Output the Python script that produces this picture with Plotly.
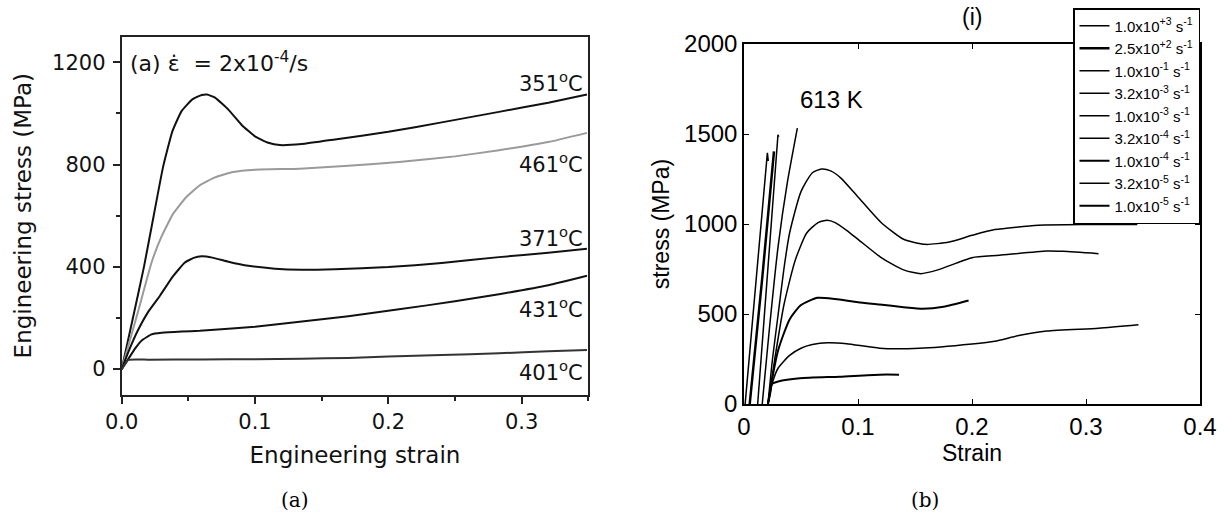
import plotly.graph_objects as go

# ---------------- Panel (a): engineering stress-strain at 2x10^-4 /s ----------------
temps_a = ["351", "461", "371", "431", "401"]

strain_351 = [0, 0.008, 0.0167, 0.024, 0.031, 0.038, 0.045, 0.053, 0.060, 0.064, 0.070, 0.080, 0.090, 0.100,
              0.110, 0.1185, 0.135, 0.160, 0.200, 0.240, 0.283, 0.320, 0.349]
stress_351 = [0, 190, 400, 600, 790, 930, 1010, 1055, 1072, 1074, 1062, 1015, 955, 910,
              885, 876, 880, 898, 928, 965, 1006, 1042, 1074]

strain_461 = [0, 0.006, 0.012, 0.0224, 0.030, 0.0386, 0.048, 0.0586, 0.070, 0.0835, 0.100, 0.1335,
              0.170, 0.208, 0.250, 0.283, 0.320, 0.349]
stress_461 = [0, 110, 220, 417, 520, 608, 670, 719, 750, 771, 780, 784,
              795, 810, 832, 856, 888, 924]

strain_371 = [0, 0.006, 0.012, 0.020, 0.0287, 0.038, 0.0474, 0.054, 0.060, 0.068, 0.080, 0.095, 0.115,
              0.135, 0.160, 0.200, 0.240, 0.283, 0.320, 0.349]
stress_371 = [0, 80, 150, 225, 287, 360, 417, 435, 441, 436, 420, 404, 393,
              389, 391, 399, 415, 438, 455, 471]

strain_431 = [0, 0.005, 0.010, 0.015, 0.0224, 0.030, 0.045, 0.0586, 0.080, 0.100, 0.1335, 0.170,
              0.208, 0.250, 0.283, 0.320, 0.349]
stress_431 = [0, 40, 80, 112, 136, 142, 147, 150, 158, 166, 185, 207,
              234, 265, 293, 328, 365]

strain_401 = [0, 0.005, 0.020, 0.060, 0.100, 0.135, 0.170, 0.200, 0.240, 0.283, 0.320, 0.349]
stress_401 = [0, 36, 37, 38, 39, 41, 44, 49, 55, 62, 70, 75]

label_y_a = [1122, 805, 515, 241, -7]

# ---------------- Panel (b): true stress-strain at 613 K ----------------
rates_b = ["1.0x10<sup>+3</sup> s<sup>-1</sup>", "2.5x10<sup>+2</sup> s<sup>-1</sup>",
           "1.0x10<sup>-1</sup> s<sup>-1</sup>", "3.2x10<sup>-3</sup> s<sup>-1</sup>",
           "1.0x10<sup>-3</sup> s<sup>-1</sup>", "3.2x10<sup>-4</sup> s<sup>-1</sup>",
           "1.0x10<sup>-4</sup> s<sup>-1</sup>", "3.2x10<sup>-5</sup> s<sup>-1</sup>",
           "1.0x10<sup>-5</sup> s<sup>-1</sup>"]

strain_r1 = [0.001, 0.0205, 0.0213]
stress_r1 = [0, 1395, 1350]
strain_r2 = [0.005, 0.016, 0.0263]
stress_r2 = [0, 700, 1403]
strain_r3 = [0.012, 0.0298, 0.0305]
stress_r3 = [0, 1496, 1485]
strain_r4 = [0.016, 0.022, 0.030, 0.038, 0.0468]
stress_r4 = [0, 400, 880, 1230, 1533]
strain_r5 = [0.021, 0.025, 0.030, 0.035, 0.040, 0.050, 0.060, 0.068, 0.076, 0.085, 0.100, 0.120, 0.140,
             0.159, 0.180, 0.200, 0.220, 0.2585, 0.300, 0.345]
stress_r5 = [0, 250, 500, 750, 950, 1180, 1285, 1305, 1295, 1255, 1150, 1010, 915,
             887, 900, 937, 969, 993, 997, 997]
strain_r6 = [0.021, 0.027, 0.035, 0.045, 0.055, 0.065, 0.073, 0.080, 0.090, 0.100, 0.120, 0.140, 0.155,
             0.170, 0.200, 0.224, 0.2655, 0.280, 0.311]
stress_r6 = [0, 250, 550, 800, 950, 1008, 1021, 1008, 965, 915, 815, 745, 724,
             745, 813, 826, 850, 848, 835]
strain_r7 = [0.021, 0.025, 0.030, 0.040, 0.050, 0.0646, 0.080, 0.100, 0.119, 0.140, 0.157, 0.175, 0.197]
stress_r7 = [0, 150, 300, 470, 550, 590, 583, 565, 553, 538, 529, 540, 575]
strain_r8 = [0.021, 0.025, 0.030, 0.040, 0.050, 0.060, 0.0734, 0.090, 0.119, 0.154, 0.200, 0.220,
             0.241, 0.2655, 0.311, 0.346]
stress_r8 = [0, 120, 200, 270, 310, 330, 340, 335, 310, 310, 334, 349,
             380, 405, 421, 440]
strain_r9 = [0.021, 0.023, 0.0245, 0.030, 0.049, 0.084, 0.119, 0.136]
stress_r9 = [0, 60, 111, 125, 143, 152, 163, 163]

W, H = 1225, 524
def px(x):
    return x / W
def py(y):
    return 1 - y / H

fig = go.Figure()

# panel (a) traces
series_a = [(strain_351, stress_351, "#111111"), (strain_461, stress_461, "#9a9a9a"),
            (strain_371, stress_371, "#111111"), (strain_431, stress_431, "#111111"),
            (strain_401, stress_401, "#333333")]
for (sx, sy, col), t in zip(series_a, temps_a):
    fig.add_trace(go.Scatter(x=sx, y=sy, mode="lines", name=t + " °C", showlegend=False,
                             line=dict(color=col, width=2, shape="spline", smoothing=0.4),
                             xaxis="x", yaxis="y"))

# panel (b) traces
series_b = [(strain_r1, stress_r1, 1.5, "linear"), (strain_r2, stress_r2, 2.5, "linear"),
            (strain_r3, stress_r3, 1.5, "linear"), (strain_r4, stress_r4, 1.5, "spline"),
            (strain_r5, stress_r5, 1.5, "spline"), (strain_r6, stress_r6, 1.5, "spline"),
            (strain_r7, stress_r7, 2.0, "spline"), (strain_r8, stress_r8, 1.5, "spline"),
            (strain_r9, stress_r9, 2.0, "spline")]
for (sx, sy, lw, shp), r in zip(series_b, rates_b):
    ln = dict(color="black", width=lw, shape=shp)
    if shp == "spline":
        ln["smoothing"] = 0.6
    fig.add_trace(go.Scatter(x=sx, y=sy, mode="lines", name=r, showlegend=True,
                             line=ln, xaxis="x2", yaxis="y2"))

font_a = "DejaVu Sans"
font_b = "Liberation Sans, Arial"

fig.update_layout(
    width=W, height=H, margin=dict(l=0, r=0, t=0, b=0),
    paper_bgcolor="white", plot_bgcolor="white",
    xaxis=dict(domain=[px(121.7), px(588.3)], range=[0, 0.35], dtick=0.1, tick0=0, tickformat=".1f",
               ticks="outside", ticklen=7, tickwidth=1.5, tickcolor="#222",
               minor=dict(dtick=0.05, ticks="outside", ticklen=4, tickwidth=1.5, tickcolor="#222"),
               showline=True, mirror=True, linecolor="#222", linewidth=2, showgrid=False, zeroline=False,
               tickfont=dict(family=font_a, size=21, color="#111"),
               title=dict(text="Engineering strain", font=dict(family=font_a, size=23, color="#111"), standoff=14),
               anchor="y", automargin=False),
    yaxis=dict(domain=[py(394.7), py(36.7)], range=[-100, 1300], dtick=400, tick0=0,
               ticks="outside", ticklen=7, tickwidth=1.5, tickcolor="#222", ticklabelstandoff=3,
               minor=dict(dtick=200, ticks="outside", ticklen=4, tickwidth=1.5, tickcolor="#222"),
               showline=True, mirror=True, linecolor="#222", linewidth=2, showgrid=False, zeroline=False,
               tickfont=dict(family=font_a, size=21, color="#111"),
               title=dict(text="Engineering stress (MPa)", font=dict(family=font_a, size=23, color="#111"), standoff=14),
               anchor="x", automargin=False),
    xaxis2=dict(domain=[px(744), px(1200)], range=[0, 0.4], dtick=0.1, tick0=0,
                ticks="inside", ticklen=5, tickwidth=1.2, tickcolor="black",
                showline=True, mirror="allticks", linecolor="black", linewidth=1.5,
                showgrid=False, zeroline=False,
                tickfont=dict(family=font_b, size=24, color="black"),
                title=dict(text="Strain", font=dict(family=font_b, size=23, color="black"), standoff=2),
                anchor="y2", automargin=False),
    yaxis2=dict(domain=[py(404), py(44)], range=[0, 2000], dtick=500, tick0=0,
                ticks="inside", ticklen=5, tickwidth=1.2, tickcolor="black",
                showline=True, mirror="allticks", linecolor="black", linewidth=1.5,
                showgrid=False, zeroline=False,
                tickfont=dict(family=font_b, size=24, color="black"),
                title=dict(text="stress (MPa)", font=dict(family=font_b, size=23, color="black"), standoff=8),
                anchor="x2", automargin=False),
    legend=dict(x=px(1073), y=py(8), xanchor="left", yanchor="top",
                bgcolor="white", bordercolor="black", borderwidth=1.5,
                font=dict(family=font_b, size=15, color="black"),
                tracegroupgap=0, itemwidth=30),
)

# curve labels panel (a)
for t, yv in zip(temps_a, label_y_a):
    fig.add_annotation(x=0.3475, y=yv, xref="x", yref="y", xanchor="right", yanchor="middle",
                       text=t + "<sup>o</sup>C", showarrow=False,
                       font=dict(family=font_a, size=21, color="#111"))

fig.add_annotation(x=0.005, y=1200, xref="x", yref="y", xanchor="left", yanchor="middle",
                   text="(a) ε̇  = 2x10<sup>-4</sup>/s", showarrow=False,
                   font=dict(family=font_a, size=22, color="#111"))

fig.add_annotation(x=0.077, y=1689, xref="x2", yref="y2", xanchor="center", yanchor="middle",
                   text="613 K", showarrow=False, font=dict(family=font_b, size=24, color="black"))
fig.add_annotation(x=px(972), y=py(17), xref="paper", yref="paper", xanchor="center", yanchor="middle",
                   text="(i)", showarrow=False, font=dict(family=font_b, size=23, color="black"))

# sub-figure captions
fig.add_annotation(x=px(295), y=py(500), xref="paper", yref="paper", xanchor="center", yanchor="middle",
                   text="(a)", showarrow=False, font=dict(family="DejaVu Serif", size=20, color="black"))
fig.add_annotation(x=px(925), y=py(500), xref="paper", yref="paper", xanchor="center", yanchor="middle",
                   text="(b)", showarrow=False, font=dict(family="DejaVu Serif", size=20, color="black"))

fig.write_html("out.html", config={"displayModeBar": False},
               post_script="document.body.style.margin='0';")
